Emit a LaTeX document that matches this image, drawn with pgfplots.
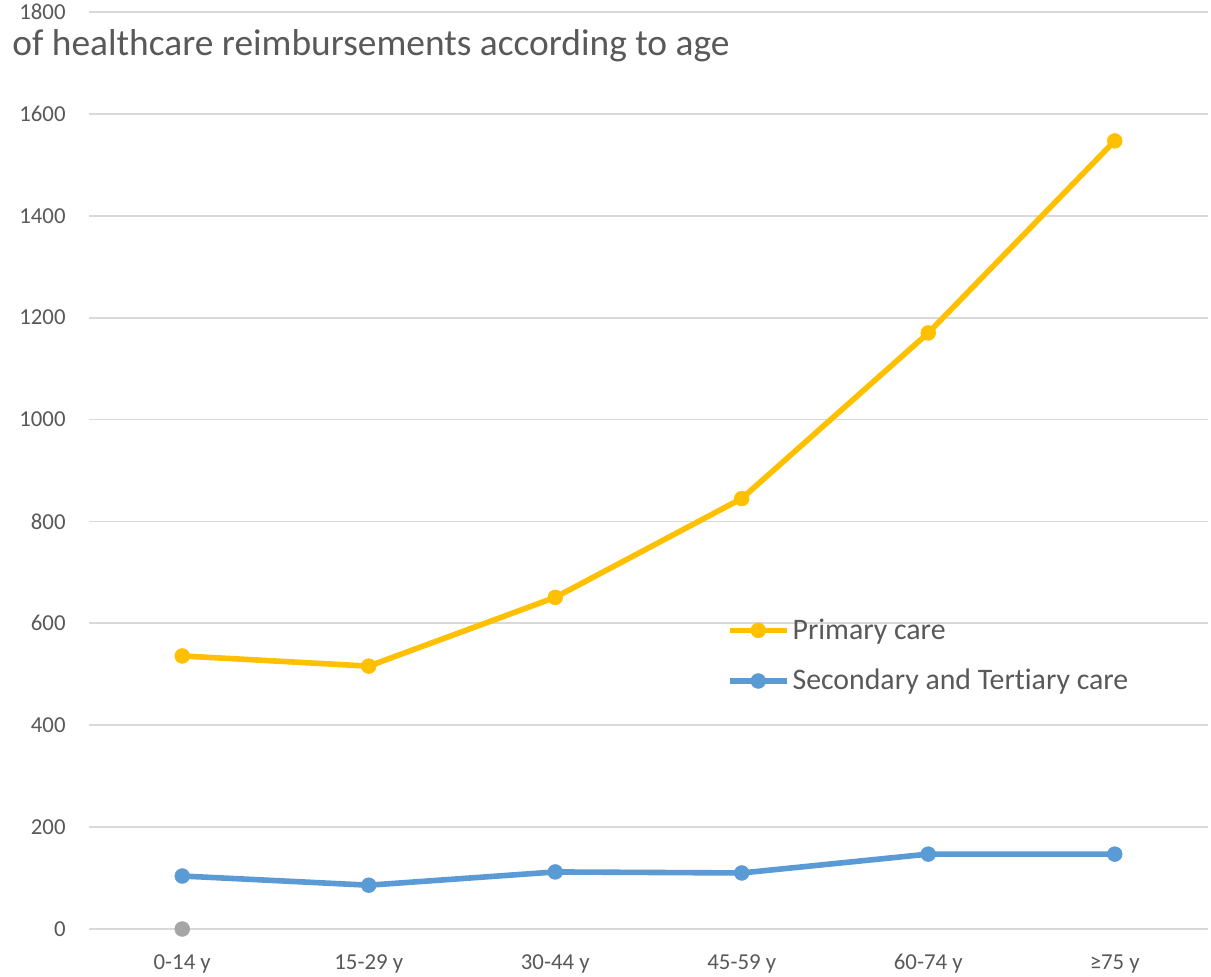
\documentclass[border=0pt]{standalone}
\usepackage{pgfplots}
\pgfplotsset{compat=1.18}
\usepackage{fontspec}
\setmainfont{Carlito}[Ligatures={NoCommon}]
\definecolor{prim}{HTML}{FFC000}
\definecolor{sec}{HTML}{5B9BD5}
\definecolor{gridc}{HTML}{D9D9D9}
\definecolor{txt}{HTML}{595959}
\definecolor{grpt}{HTML}{A5A5A5}
\begin{document}
\begin{tikzpicture}
\clip (0,0) rectangle (605.5pt,488pt);
\fill[white] (0,0) rectangle (605.5pt,488pt);
\begin{axis}[
  at={(44.5pt,23.5pt)}, anchor=south west,
  scale only axis, width=559.5pt, height=458.5pt,
  xmin=-0.5, xmax=5.5, ymin=0, ymax=1800,
  xtick={0,1,2,3,4,5},
  xticklabels={0-14 y,15-29 y,30-44 y,45-59 y,60-74 y,≥75 y},
  ytick={0,200,...,1800},
  ymajorgrids, grid style={gridc, line width=0.9pt},
  axis line style={draw=none},
  major tick length=0pt,
  tick label style={font=\fontsize{11.4}{13}\selectfont, text=txt},
  /pgf/number format/assume math mode=true,
  /pgf/number format/1000 sep={},
  yticklabel style={anchor=east, inner sep=0pt, xshift=-11.5pt},
  xticklabel style={anchor=north, inner sep=0pt, yshift=-12.5pt},
  legend cell align=left,
  legend image code/.code={\draw[mark repeat=2,mark phase=2,#1] plot coordinates {(0pt,0pt) (14.25pt,0pt) (28.5pt,0pt)};},
  legend style={at={(rel axis cs:0.5698,0.298)}, anchor=west, draw=none, fill=none,
    inner sep=0pt, font=\fontsize{14.9}{17}\selectfont, text=txt, row sep=10.5pt,
    nodes={inner sep=1.5pt}},
]
\addplot[prim, line width=2.8pt, mark=*, mark size=3.7pt, mark options={line width=0.3pt}] coordinates {
  (0,536) (1,516) (2,651) (3,845) (4,1170) (5,1547)};
\addlegendentry{Primary care}
\addplot[sec, line width=2.8pt, mark=*, mark size=3.7pt, mark options={line width=0.3pt}] coordinates {
  (0,104) (1,86) (2,112) (3,110) (4,147) (5,147)};
\addlegendentry{Secondary and Tertiary care}
\addplot[grpt, only marks, mark=*, mark size=3.7pt, mark options={line width=0.3pt}, forget plot] coordinates {(0,0)};
\end{axis}
\node[anchor=base west, inner sep=0pt, text=txt, font=\fontsize{18.7}{22}\selectfont] at (6pt,460pt) {of healthcare reimbursements according to age};
\end{tikzpicture}
\end{document}
